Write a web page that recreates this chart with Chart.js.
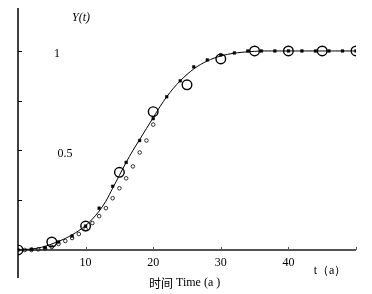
<!DOCTYPE html>
<html>
<head>
<meta charset="utf-8">
<script src="https://cdn.jsdelivr.net/npm/chart.js@4/dist/chart.umd.min.js"></script>
<style>
  html, body { margin: 0; padding: 0; background: #fff; }
  #wrap { width: 372px; height: 294px; }
</style>
</head>
<body>
<div id="wrap"><canvas id="c" width="372" height="294"></canvas></div>
<script>
// fitted curve, read every year
const curveYears = [];
for (let i = 0; i <= 50; i++) curveYears.push(i);
const curveValues = [0, 0.002, 0.005, 0.010, 0.018, 0.030, 0.043, 0.058, 0.076, 0.097,
  0.122, 0.155, 0.195, 0.245, 0.31, 0.375, 0.44, 0.50, 0.555, 0.61,
  0.665, 0.72, 0.77, 0.813, 0.85, 0.882, 0.91, 0.932, 0.95, 0.964,
  0.975, 0.983, 0.989, 0.993, 0.996, 0.998, 1, 1, 1, 1,
  1, 1, 1, 1, 1, 1, 1, 1, 1, 1, 1];

// big open circles (every 5 years)
const circleYears = [0, 5, 10, 15, 20, 25, 30, 35, 40, 45, 50];
const circleValues = [0, 0.04, 0.12, 0.39, 0.695, 0.83, 0.96, 1.0, 1.0, 1.0, 1.0];

// small filled squares (every 2 years)
const squareYears = [0, 2, 4, 6, 8, 10, 12, 14, 16, 18, 20, 22, 24, 26, 28, 30, 32, 34, 36, 38, 40, 42, 44, 46, 48, 50];
const squareValues = [0, 0.004, 0.012, 0.04, 0.07, 0.12, 0.21, 0.32, 0.44, 0.55, 0.66, 0.77, 0.85, 0.92, 0.955, 0.98, 0.99, 1, 1, 1, 1, 1, 1, 1, 1, 1];

// small open circles (lagging series)
const dotYears = [1, 2, 3, 4, 5, 6, 7, 8, 9, 10, 11, 12, 13, 14, 15, 16, 17, 18, 19, 20];
const dotValues = [0, 0, 0.003, 0.008, 0.015, 0.03, 0.045, 0.06, 0.08, 0.105, 0.135, 0.17, 0.21, 0.26, 0.31, 0.36, 0.42, 0.49, 0.55, 0.63];

const xTicks = [10, 20, 30, 40];
const yTicks = [0.25, 0.5, 0.75, 1];
const yLabels = [{ v: 1, text: '1', x: 57 }, { v: 0.5, text: '0.5', x: 65 }];

const pts = (xs, ys) => xs.map((x, i) => ({ x, y: ys[i] }));

const serif = '"Liberation Serif", "DejaVu Serif", serif';

const axesPlugin = {
  id: 'axes',
  beforeDatasetsDraw(chart) {
    const { ctx, chartArea, scales: { x, y } } = chart;
    const x0 = x.getPixelForValue(0), y0 = y.getPixelForValue(0);
    ctx.save();
    // y axis
    ctx.strokeStyle = '#000';
    ctx.lineWidth = 1.5;
    ctx.beginPath();
    ctx.moveTo(x0, chartArea.top);
    ctx.lineTo(x0, chartArea.bottom);
    ctx.stroke();
    ctx.lineWidth = 1;
    yTicks.forEach(v => {
      const py = Math.round(y.getPixelForValue(v)) + 0.5;
      ctx.beginPath();
      ctx.moveTo(x0, py);
      ctx.lineTo(x0 + 4, py);
      ctx.stroke();
    });
    // x axis
    ctx.strokeStyle = '#555';
    ctx.lineWidth = 2;
    ctx.beginPath();
    ctx.moveTo(x0, y0);
    ctx.lineTo(x.getPixelForValue(50), y0);
    ctx.stroke();
    ctx.lineWidth = 1;
    [...xTicks, 50].forEach(v => {
      const px = Math.round(x.getPixelForValue(v)) + 0.5;
      ctx.beginPath();
      ctx.moveTo(px, y0);
      ctx.lineTo(px, y0 - 3);
      ctx.stroke();
    });
    // labels
    ctx.fillStyle = '#000';
    ctx.font = '12px ' + serif;
    ctx.textAlign = 'center';
    ctx.textBaseline = 'middle';
    xTicks.forEach(v => ctx.fillText(String(v), x.getPixelForValue(v), y0 + 13));
    yLabels.forEach(l => ctx.fillText(l.text, l.x, y.getPixelForValue(l.v) + 3));
    ctx.font = 'italic 12px ' + serif;
    ctx.fillText('Y(t)', 81, 18);
    ctx.font = '12px ' + serif;
    ctx.fillText('t（a）', 330, 271);
    ctx.textAlign = 'left';
    ctx.font = '12px "Noto Sans CJK SC"';
    ctx.fillText('时间', 149, 283);
    ctx.font = '12px ' + serif;
    ctx.fillText('Time (a )', 176, 283);
    ctx.restore();
  }
};

new Chart(document.getElementById('c'), {
  type: 'scatter',
  data: {
    datasets: [
      {
        label: 'curve',
        type: 'line',
        data: pts(curveYears, curveValues),
        borderColor: '#000',
        borderWidth: 1,
        pointRadius: 0,
        tension: 0.3,
        fill: false,
        order: 4
      },
      {
        label: 'dots',
        data: pts(dotYears, dotValues),
        pointStyle: 'circle',
        pointRadius: 1.8,
        borderColor: '#000',
        borderWidth: 0.8,
        backgroundColor: 'rgba(0,0,0,0)',
        order: 3
      },
      {
        label: 'squares',
        data: pts(squareYears, squareValues),
        pointStyle: 'rect',
        pointRadius: 1.9,
        borderColor: '#000',
        borderWidth: 0.5,
        backgroundColor: '#000',
        order: 2
      },
      {
        label: 'circles',
        data: pts(circleYears, circleValues),
        pointStyle: 'circle',
        pointRadius: 4.8,
        borderColor: '#000',
        borderWidth: 1.4,
        backgroundColor: 'rgba(0,0,0,0)',
        order: 1
      }
    ]
  },
  options: {
    responsive: false,
    animation: false,
    layout: { padding: { left: 18, right: 16, top: 8, bottom: 16 } },
    plugins: { legend: { display: false }, tooltip: { enabled: false } },
    scales: {
      x: { type: 'linear', min: 0, max: 50, display: false },
      y: { type: 'linear', min: -0.141, max: 1.216, display: false }
    }
  },
  plugins: [axesPlugin]
});
</script>
</body>
</html>
